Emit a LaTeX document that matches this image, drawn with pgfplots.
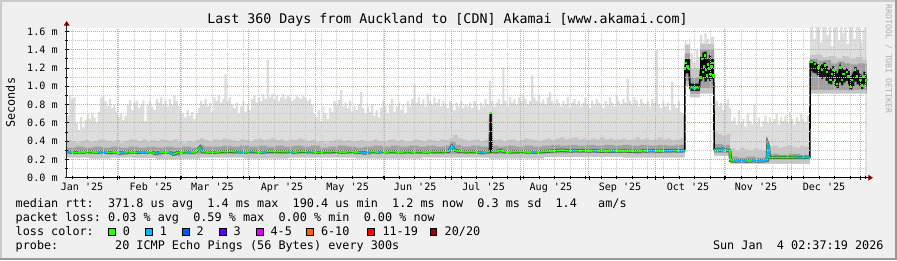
\documentclass[border=0pt]{standalone}
\usepackage{pgfplots}
\pgfplotsset{compat=1.18}
\usepackage{pgfplotstable}
\usepackage{fontspec}
\setmonofont{DejaVu Sans Mono}
\usetikzlibrary{arrows.meta}
\definecolor{bgc}{HTML}{F0F0F0}
\definecolor{shadea}{HTML}{CBCBCB}
\definecolor{shadeb}{HTML}{999999}
\definecolor{smA}{HTML}{DDDDDD}
\definecolor{smB}{HTML}{C6C6C6}
\definecolor{smC}{HTML}{A0A0A0}
\definecolor{smD}{HTML}{151515}
\definecolor{halo}{HTML}{5A5A5A}
\definecolor{mgrid}{HTML}{E89A9A}
\definecolor{mingrid}{HTML}{C8C8C8}
\definecolor{arrowred}{HTML}{7F0000}
\definecolor{l0}{HTML}{26FF00}
\definecolor{l1}{HTML}{00B8FF}
\definecolor{l2}{HTML}{0059FF}
\definecolor{l3}{HTML}{5E00FF}
\definecolor{l4}{HTML}{DD00FF}
\definecolor{l6}{HTML}{FF5E00}
\definecolor{l11}{HTML}{FF0000}
\definecolor{l20}{HTML}{A10000}
\definecolor{wm}{HTML}{B0B0B0}
\newcommand{\lgd}{\ttfamily\frenchspacing\fontsize{11.8}{14}\selectfont}
\newcommand{\ttl}{\ttfamily\frenchspacing\fontsize{13.3}{16}\selectfont}
\newcommand{\tck}{\ttfamily\frenchspacing\fontsize{10.1}{12}\selectfont}
\newcommand{\wmk}{\ttfamily\frenchspacing\fontsize{8.2}{10}\selectfont}

% median rtt (ms) vs days since start (Jan 9 2025)
\pgfplotstableread[row sep=\\]{
x m\\
0 0.285\\ 2 0.280\\ 4 0.276\\ 6 0.283\\ 8 0.280\\ 10 0.286\\ 12 0.282\\ 14 0.279\\ 16 0.284\\ 18 0.280\\
20 0.278\\ 22 0.283\\ 24 0.268\\ 26 0.281\\ 28 0.284\\ 30 0.279\\ 32 0.276\\ 34 0.283\\ 36 0.280\\ 38 0.285\\
40 0.262\\ 42 0.281\\ 44 0.279\\ 46 0.283\\ 48 0.256\\ 50 0.276\\ 52 0.282\\ 54 0.286\\ 56 0.280\\ 58 0.283\\
60 0.335\\ 61 0.286\\ 62 0.284\\ 64 0.280\\ 66 0.276\\ 68 0.282\\ 70 0.287\\ 72 0.284\\ 74 0.290\\ 76 0.283\\
78 0.286\\ 80 0.279\\ 82 0.285\\ 84 0.288\\ 86 0.282\\ 88 0.279\\ 90 0.286\\ 92 0.290\\ 94 0.284\\ 96 0.288\\
98 0.283\\ 100 0.286\\ 102 0.280\\ 104 0.284\\ 106 0.289\\ 108 0.283\\ 110 0.286\\ 112 0.280\\ 114 0.278\\ 116 0.285\\
118 0.283\\ 120 0.287\\ 122 0.284\\ 124 0.279\\ 126 0.283\\ 128 0.286\\ 130 0.281\\ 132 0.278\\ 134 0.270\\ 136 0.283\\
138 0.286\\ 140 0.280\\ 142 0.284\\ 144 0.281\\ 146 0.287\\ 148 0.283\\ 150 0.279\\ 152 0.284\\ 154 0.286\\ 156 0.281\\
158 0.285\\ 160 0.283\\ 162 0.280\\ 164 0.285\\ 166 0.283\\ 168 0.287\\ 170 0.284\\ 172 0.290\\ 173.3 0.345\\ 174.5 0.305\\
176 0.290\\ 178 0.286\\ 180 0.283\\ 182 0.287\\ 184 0.283\\ 186 0.276\\ 188 0.282\\ 190.5 0.285\\ 190.8 0.710\\ 191.1 0.288\\
193 0.283\\ 195 0.298\\ 197 0.284\\ 199 0.281\\ 201 0.285\\ 203 0.283\\ 205 0.286\\ 207 0.280\\ 209 0.283\\ 211 0.278\\
213 0.284\\ 215 0.287\\ 217 0.290\\ 219 0.293\\ 221 0.297\\ 223 0.302\\ 225 0.296\\ 227 0.292\\ 229 0.297\\ 231 0.293\\
233 0.296\\ 235 0.291\\ 237 0.295\\ 239 0.292\\ 241 0.288\\ 243 0.293\\ 245 0.287\\ 247 0.292\\ 249 0.290\\ 251 0.294\\
253 0.288\\ 255 0.291\\ 257 0.284\\ 259 0.295\\ 261 0.292\\ 263 0.297\\ 265 0.293\\ 267 0.290\\ 269 0.296\\ 271 0.294\\
273 0.297\\ 275 0.293\\ 277 0.296\\ 278.1 0.298\\
278.2 1.200\\ 278.6 1.260\\ 279.2 1.220\\ 280.0 1.190\\ 280.5 0.980\\ 281.5 0.990\\ 282.5 0.970\\ 283.5 0.990\\ 284.7 0.980\\
285.0 1.100\\ 285.7 1.300\\ 286.2 1.160\\ 286.6 1.220\\ 287.2 1.340\\ 287.6 1.180\\ 288.0 1.120\\ 288.5 1.240\\ 289.0 1.200\\
289.5 1.140\\ 290.0 1.220\\ 290.5 1.260\\ 291.0 1.120\\ 291.2 1.020\\
291.35 0.310\\ 292 0.305\\ 293 0.312\\ 294 0.300\\ 295 0.315\\ 296 0.305\\ 297 0.300\\ 298 0.296\\ 298.5 0.290\\
298.7 0.190\\ 300 0.185\\ 301 0.180\\ 302 0.186\\ 303 0.182\\ 304 0.188\\ 305 0.184\\ 306 0.180\\ 307 0.186\\ 308 0.183\\
309 0.188\\ 310 0.184\\ 311 0.181\\ 312 0.186\\ 313 0.183\\ 314 0.187\\ 315.2 0.190\\ 315.5 0.360\\ 315.9 0.330\\
316.2 0.222\\ 318 0.220\\ 320 0.224\\ 322 0.219\\ 324 0.223\\ 326 0.221\\ 328 0.224\\ 330 0.220\\ 332 0.223\\ 334.4 0.222\\
334.6 1.270\\ 335.2 1.270\\ 336.7 1.250\\ 338.2 1.210\\ 339.7 1.180\\ 341.2 1.230\\ 342.0 1.160\\ 343.5 1.070\\ 344.2 1.140\\
345.0 1.180\\ 345.7 1.070\\ 346.5 1.030\\ 348.0 1.210\\ 348.8 1.070\\ 349.5 1.140\\ 351.0 1.160\\ 351.7 1.110\\ 352.5 0.995\\
353.2 1.070\\ 354.7 1.180\\ 355.5 1.110\\ 357.0 1.070\\ 357.7 1.010\\ 358.5 1.110\\ 359.7 1.070\\
}\Mtab

\begin{document}
\begin{tikzpicture}
\fill[bgc] (0pt,0pt) rectangle (897pt,260pt);
\fill[shadea] (0pt,258pt) rectangle (897pt,260pt);
\fill[shadea] (0pt,0pt) rectangle (2pt,260pt);
\fill[shadeb] (0pt,0pt) rectangle (897pt,2pt);
\fill[shadeb] (895pt,0pt) rectangle (897pt,260pt);

\node[font=\ttl, anchor=base, inner sep=0pt] at (447.5pt,236pt) {Last~360~Days~from~Auckland~to~[CDN]~Akamai~[www.akamai.com]};
\node[font=\wmk, text=wm, rotate=-90, inner sep=0pt] at (888.5pt,201pt) {RRDTOOL~/~TOBI~OETIKER};

\begin{axis}[
  at={(66.7pt,82.3pt)}, anchor=south west,
  scale only axis, width=800pt, height=150pt,
  xmin=0, xmax=360, ymin=0, ymax=1.641,
  axis background/.style={fill=white},
  axis on top,
  axis x line=bottom, axis y line=left,
  x axis line style={line width=1pt, black, -{Triangle[length=4.5pt,width=5.5pt,color=arrowred]}, shorten >=-6.2pt},
  y axis line style={line width=1pt, black!85, -{Triangle[length=4.5pt,width=5.5pt,color=arrowred]}, shorten >=-6.7pt},
  xtick={23,51,82,112,143,173,204,235,265,296,326,357},
  xticklabels={,,,,,,,,,,,},
  minor xtick={2.5,9.5,...,359},
  extra x ticks={6.9,37.9,65.6,96.9,126.4,156.8,187.6,217.9,249.0,279.6,310.2,340.8},
  extra x tick labels={Jan '25,Feb '25,Mar '25,Apr '25,May '25,Jun '25,Jul '25,Aug '25,Sep '25,Oct '25,Nov '25,Dec '25},
  extra x tick style={grid=none, major tick length=0pt},
  xticklabel style={font=\tck, anchor=base, yshift=-12.8pt, inner sep=0pt},
  ytick={0,0.2,0.4,0.6,0.8,1.0,1.2,1.4,1.6},
  yticklabels={0.0 m,0.2 m,0.4 m,0.6 m,0.8 m,1.0 m,1.2 m,1.4 m,1.6 m},
  minor ytick={0.1,0.3,0.5,0.7,0.9,1.1,1.3,1.5},
  yticklabel style={font=\tck, anchor=east, inner sep=0pt, xshift=-6.9pt},
  xmajorgrids, xminorgrids, ymajorgrids, yminorgrids,
  major grid style={mgrid, line width=1pt, dash pattern=on 1pt off 1pt},
  minor grid style={mingrid, line width=1pt, dash pattern=on 1pt off 1pt},
  tick align=center, major tick length=4pt, minor tick length=2.5pt,
  tick style={black, line width=0.8pt},
  ylabel={Seconds},
  every axis y label/.style={at={(axis description cs:-0.07025,0.5)}, rotate=90, anchor=center, font=\lgd},
  unbounded coords=jump,
  clip=true,
]
% lightest smoke: top of the ping spread
\addplot[const plot, fill=smA, draw=none] coordinates {
(0,0.68)(1,0.90)(2,0.86)(3,0.88)(4,0.60)(5,0.52)(6,0.66)(7,0.55)(8,0.63)(9,0.70)
(10,0.64)(11,0.70)(12,0.66)(13,0.60)(14,0.72)(15,0.88)(16,0.90)(17,0.84)(18,0.78)(19,0.86)
(20,0.76)(21,0.80)(22,0.72)(23,0.66)(24,0.70)(25,0.63)(26,0.68)(27,0.80)(28,0.85)(29,0.74)
(30,0.82)(31,0.84)(32,0.76)(33,0.80)(34,0.85)(35,0.62)(36,0.80)(37,0.84)(38,0.78)(39,0.74)
(40,0.86)(41,0.82)(42,0.88)(43,0.80)(44,0.84)(45,0.78)(46,0.86)(47,0.80)(48,0.90)(49,0.84)
(50,0.78)(51,0.72)(52,0.70)(53,0.66)(54,0.74)(55,0.68)(56,0.72)(57,0.64)(58,0.70)(59,0.76)
(60,0.84)(61,0.80)(62,0.86)(63,0.78)(64,0.82)(65,0.72)(66,0.88)(67,0.84)(68,0.90)(69,0.82)
(70,0.86)(71,1.13)(72,0.84)(73,0.88)(74,0.80)(75,0.76)(76,0.82)(77,0.70)(78,0.78)(79,0.84)
(80,0.72)(81,0.80)(82,0.74)(83,0.86)(84,0.90)(85,0.82)(86,0.88)(87,0.84)(88,0.92)(89,0.86)
(90,1.29)(91,0.88)(92,0.92)(93,0.86)(94,0.90)(95,0.84)(96,0.88)(97,0.92)(98,0.86)(99,0.90)
(100,0.88)(101,0.84)(102,0.86)(103,0.90)(104,0.88)(105,0.86)(106,0.90)(107,0.88)(108,0.84)(109,0.86)
(110,0.80)(111,0.70)(112,0.66)(113,0.74)(114,0.62)(115,0.78)(116,0.70)(117,0.64)(118,0.76)(119,0.72)
(120,0.84)(121,0.80)(122,0.85)(123,0.96)(124,0.78)(125,0.82)(126,0.76)(127,0.84)(128,0.72)(129,0.78)
(130,0.74)(131,0.80)(132,0.94)(133,0.76)(134,0.70)(135,0.78)(136,0.72)(137,0.80)(138,0.68)(139,0.74)
(140,0.66)(141,0.76)(142,0.84)(143,0.78)(144,0.70)(145,0.80)(146,0.86)(147,0.72)(148,0.78)(149,0.82)
(150,0.74)(151,0.80)(152,0.70)(153,0.84)(154,0.78)(155,0.86)(156,1.03)(157,0.82)(158,0.88)(159,0.80)
(160,0.86)(161,0.78)(162,0.92)(163,0.84)(164,0.80)(165,0.88)(166,0.82)(167,0.86)(168,0.78)(169,0.84)
(170,0.80)(171,0.76)(172,0.84)(173,0.80)(174,0.74)(175,0.82)(176,0.78)(177,0.84)(178,0.76)(179,0.80)
(180,0.78)(181,0.82)(182,0.76)(183,0.84)(184,0.80)(185,0.74)(186,0.82)(187,0.78)(188,0.86)(189,0.80)
(190,1.06)(191,0.84)(192,0.78)(193,0.82)(194,0.86)(195,0.80)(196,1.21)(197,0.84)(198,0.78)(199,0.88)
(200,0.82)(201,0.86)(202,0.80)(203,0.88)(204,0.84)(205,0.92)(206,0.86)(207,0.80)(208,0.84)(209,1.12)
(210,0.88)(211,0.84)(212,0.90)(213,0.82)(214,0.86)(215,0.80)(216,0.88)(217,0.94)(218,0.84)(219,0.80)
(220,0.86)(221,0.82)(222,0.78)(223,0.84)(224,0.80)(225,0.88)(226,0.76)(227,0.82)(228,0.86)(229,0.80)
(230,0.84)(231,0.78)(232,0.82)(233,0.88)(234,0.80)(235,0.76)(236,0.84)(237,0.80)(238,0.86)(239,0.82)
(240,0.80)(241,0.76)(242,0.84)(243,0.80)(244,0.88)(245,0.82)(246,0.78)(247,0.90)(248,0.84)(249,0.80)
(250,0.86)(251,0.82)(252,1.08)(253,0.84)(254,0.80)(255,0.88)(256,0.84)(257,0.78)(258,0.86)(259,0.82)
(260,0.80)(261,0.84)(262,0.78)(263,0.86)(264,0.82)(265,1.40)(266,0.80)(267,0.76)(268,0.84)(269,0.78)
(270,0.82)(271,0.74)(272,1.05)(273,0.80)(274,0.76)(275,0.84)(276,0.72)(277,0.70)(278,0.74)
(278.2,1.50)(279,1.46)(280,1.52)(280.5,1.30)(281,1.36)(282,1.26)(283,1.40)(284,1.32)
(285,1.56)(286,1.48)(287,1.58)(288,1.52)(289,1.46)(290,1.54)
(291.3,0.88)(292,0.84)(293,0.78)(294,0.82)(295,0.74)(296,0.80)(297,0.86)(298,0.76)
(299,0.62)(300,0.66)(301,0.58)(302,0.74)(303,0.60)(304,0.64)(305,0.56)(306,0.70)(307,0.62)(308,0.58)(309,0.80)
(310,0.60)(311,0.66)(312,0.56)(313,0.62)(314,0.68)(315,0.60)(316,0.66)(317,0.60)(318,0.64)(319,0.70)
(320,0.58)(321,0.66)(322,0.62)(323,0.68)(324,0.60)(325,0.72)(326,0.64)(327,0.58)(328,0.66)(329,0.62)
(330,0.70)(331,0.64)(332,0.60)(333,0.68)(334,0.62)
(334.5,1.70)(336,1.52)(337,1.70)(339,1.48)(340,1.70)(342,1.56)(343,1.70)(344,1.44)(345,1.70)
(347,1.50)(348,1.70)(349,1.58)(350,1.70)(351,1.46)(352,1.70)(354,1.52)(355,1.70)(357,1.48)(358,1.62)(359,1.70)(360,1.70)
} \closedcycle;
% medium smoke
\addplot[const plot, fill=smB, draw=none] coordinates {
(0,0.41)(2,0.40)(4,0.38)(6,0.40)(8,0.41)(10,0.39)(12,0.40)(14,0.42)(16,0.41)(18,0.40)
(20,0.39)(22,0.41)(24,0.38)(26,0.40)(28,0.42)(30,0.41)(32,0.40)(34,0.42)(36,0.39)(38,0.41)
(40,0.40)(42,0.42)(44,0.41)(46,0.40)(48,0.42)(50,0.39)(52,0.38)(54,0.40)(56,0.39)(58,0.41)
(60,0.43)(62,0.41)(64,0.40)(66,0.42)(68,0.41)(70,0.43)(72,0.42)(74,0.41)(76,0.40)(78,0.42)
(80,0.41)(82,0.40)(84,0.42)(86,0.43)(88,0.41)(90,0.42)(92,0.43)(94,0.41)(96,0.42)(98,0.40)
(100,0.42)(102,0.41)(104,0.43)(106,0.42)(108,0.40)(110,0.41)(112,0.39)(114,0.40)(116,0.38)(118,0.40)
(120,0.41)(122,0.42)(124,0.40)(126,0.41)(128,0.39)(130,0.40)(132,0.41)(134,0.39)(136,0.40)(138,0.42)
(140,0.40)(142,0.39)(144,0.41)(146,0.42)(148,0.40)(150,0.41)(152,0.39)(154,0.40)(156,0.42)(158,0.41)
(160,0.40)(162,0.42)(164,0.41)(166,0.40)(168,0.42)(170,0.41)(172,0.43)(174,0.47)(176,0.43)(178,0.42)
(180,0.40)(182,0.41)(184,0.42)(186,0.40)(188,0.41)(190,0.43)(192,0.41)(194,0.42)(196,0.40)(198,0.41)
(200,0.42)(202,0.40)(204,0.41)(206,0.43)(208,0.42)(210,0.41)(212,0.40)(214,0.42)(216,0.43)(218,0.41)
(220,0.43)(222,0.44)(224,0.42)(226,0.43)(228,0.44)(230,0.42)(232,0.43)(234,0.41)(236,0.43)(238,0.42)
(240,0.44)(242,0.42)(244,0.43)(246,0.41)(248,0.42)(250,0.43)(252,0.41)(254,0.42)(256,0.44)(258,0.42)
(260,0.43)(262,0.41)(264,0.42)(266,0.44)(268,0.42)(270,0.43)(272,0.41)(274,0.42)(276,0.43)
(278.2,1.45)(280.5,1.20)(285,1.46)(291.3,0.50)(293,0.48)(295,0.46)(297,0.48)
(298.5,0.32)(301,0.30)(303,0.33)(305,0.31)(307,0.30)(309,0.32)(311,0.31)(313,0.30)(315.2,0.40)
(316.2,0.34)(318,0.35)(320,0.33)(322,0.34)(324,0.36)(326,0.34)(328,0.33)(330,0.35)(332,0.34)
(334.5,1.34)(337,1.35)(340,1.32)(343,1.33)(346,1.30)(349,1.33)(352,1.30)(355,1.32)(358,1.29)(360,1.29)
} \closedcycle;
% darker smoke near the median
\addplot[const plot, fill=smC, draw=none] coordinates {
(0,0.33)(4,0.34)(8,0.33)(12,0.34)(16,0.33)(20,0.34)(24,0.33)(28,0.34)(32,0.33)(36,0.34)
(40,0.33)(44,0.34)(48,0.33)(52,0.34)(56,0.33)(60,0.36)(62,0.34)(66,0.34)(70,0.35)(74,0.34)
(78,0.35)(82,0.34)(86,0.35)(90,0.34)(94,0.35)(98,0.34)(102,0.35)(106,0.34)(110,0.35)(114,0.33)
(118,0.34)(122,0.35)(126,0.34)(130,0.33)(134,0.34)(138,0.35)(142,0.34)(146,0.35)(150,0.34)(154,0.35)
(158,0.34)(162,0.35)(166,0.34)(170,0.35)(172.5,0.39)(175,0.36)(178,0.34)(182,0.35)(186,0.34)(190,0.35)
(194,0.34)(198,0.35)(202,0.34)(206,0.35)(210,0.34)(214,0.35)(218,0.36)(222,0.35)(226,0.36)(230,0.35)
(234,0.36)(238,0.35)(242,0.36)(246,0.35)(250,0.36)(254,0.35)(258,0.36)(262,0.35)(266,0.36)(270,0.35)(274,0.36)
(278.2,1.36)(280.5,1.10)(285,1.40)(291.3,0.37)(295,0.36)
(298.5,0.23)(302,0.22)(306,0.23)(310,0.22)(315.2,0.38)(316.2,0.26)(320,0.25)(325,0.26)(330,0.25)
(334.5,1.30)(338,1.28)(341,1.29)(344,1.25)(347,1.27)(350,1.25)(353,1.24)(356,1.25)(360,1.22)
} \closedcycle;
% darkest smoke (high-latency periods)
\addplot[const plot, fill=smD, draw=none] coordinates {
(0,0)(278.2,1.30)(280.5,1.03)(285,1.32)(286,1.37)(287,1.38)(288,1.30)(289,1.34)(290,1.30)(291.3,0)
(334.5,1.28)(335.5,1.27)(336.5,1.26)(337.5,1.24)(338.5,1.22)(339.5,1.24)(340.5,1.26)(341.5,1.22)(342.5,1.18)
(343.5,1.20)(344.5,1.22)(345.5,1.17)(346.5,1.14)(347.5,1.23)(348.5,1.20)(349.5,1.18)(350.5,1.20)(351.5,1.17)
(352.5,1.12)(353.5,1.15)(354.5,1.21)(355.5,1.18)(356.5,1.14)(357.5,1.12)(358.5,1.16)(359.5,1.13)(360,1.13)
} \closedcycle;
\addplot[const plot, fill=smC, draw=none] coordinates {
(0,0)(278.2,1.14)(280.5,0.95)(285,1.06)(286,1.10)(287,1.05)(288,1.08)(289,1.06)(290,1.08)(291.3,0)
(334.5,1.17)(335.5,1.15)(336.5,1.14)(337.5,1.12)(338.5,1.10)(339.5,1.08)(340.5,1.10)(341.5,1.06)(342.5,1.03)
(343.5,1.02)(344.5,1.06)(345.5,1.00)(346.5,0.98)(347.5,1.04)(348.5,1.01)(349.5,1.04)(350.5,1.06)(351.5,1.02)
(352.5,0.96)(353.5,1.00)(354.5,1.05)(355.5,1.02)(356.5,1.00)(357.5,0.97)(358.5,1.02)(359.5,1.00)(360,1.00)
} \closedcycle;
% lower smoke edge
\addplot[const plot, fill=smB, draw=none] coordinates {
(0,0.262)(6,0.258)(12,0.262)(18,0.256)(24,0.250)(28,0.260)(36,0.257)(40,0.245)(43,0.258)(48,0.240)
(51,0.255)(60,0.262)(70,0.260)(80,0.258)(90,0.262)(100,0.260)(110,0.258)(120,0.262)(130,0.256)(134,0.250)
(137,0.260)(150,0.258)(160,0.262)(170,0.260)(180,0.262)(186,0.252)(189,0.260)(200,0.258)(210,0.260)(216,0.265)
(225,0.270)(240,0.268)(255,0.265)(265,0.270)(278.2,1.06)(280.5,0.92)(285,0.98)(291.3,0.27)
(298.5,0.165)(315.2,0.170)(316.2,0.200)(334.5,0.96)(360,0.96)
} \closedcycle;
\addplot[const plot, fill=white, draw=none] coordinates {
(0,0.22)(10,0.21)(20,0.22)(30,0.215)(40,0.20)(50,0.205)(60,0.22)(80,0.21)(100,0.22)(130,0.21)
(160,0.22)(190,0.21)(215,0.225)(250,0.22)(278.2,1.00)(280.5,0.88)(285,0.92)(291.3,0.24)
(298.5,0.15)(334.5,0.92)(360,0.92)
} \closedcycle;
% median line
\addplot[halo, line width=3.2pt] table[restrict x to domain=0:278.15] {\Mtab};
\addplot[halo, line width=3.2pt] table[restrict x to domain=291.3:334.45] {\Mtab};
\addplot[black, line width=1.6pt] table {\Mtab};
\addplot[l0, line width=1.8pt] table[restrict x to domain=0:190.6] {\Mtab};
\addplot[l0, line width=1.8pt] table[restrict x to domain=191.0:278.15] {\Mtab};
\addplot[l0, line width=1.8pt] table[restrict x to domain=280.4:284.8] {\Mtab};
\addplot[l0, line width=1.8pt] table[restrict x to domain=291.3:334.45] {\Mtab};
\addplot[l1, line width=1.8pt] table[restrict x to domain=0:2] {\Mtab};
\addplot[l1, line width=1.8pt] table[restrict x to domain=14:18] {\Mtab};
\addplot[l1, line width=1.8pt] table[restrict x to domain=24:26] {\Mtab};
\addplot[l1, line width=1.8pt] table[restrict x to domain=32:36] {\Mtab};
\addplot[l1, line width=1.8pt] table[restrict x to domain=40:42] {\Mtab};
\addplot[l1, line width=1.8pt] table[restrict x to domain=46:48] {\Mtab};
\addplot[l1, line width=1.8pt] table[restrict x to domain=54:56] {\Mtab};
\addplot[l1, line width=1.8pt] table[restrict x to domain=59:61] {\Mtab};
\addplot[l1, line width=1.8pt] table[restrict x to domain=76:80] {\Mtab};
\addplot[l1, line width=1.8pt] table[restrict x to domain=82:84] {\Mtab};
\addplot[l1, line width=1.8pt] table[restrict x to domain=88:90] {\Mtab};
\addplot[l1, line width=1.8pt] table[restrict x to domain=100:102] {\Mtab};
\addplot[l1, line width=1.8pt] table[restrict x to domain=108:110] {\Mtab};
\addplot[l1, line width=1.8pt] table[restrict x to domain=132:136] {\Mtab};
\addplot[l1, line width=1.8pt] table[restrict x to domain=140:142] {\Mtab};
\addplot[l1, line width=1.8pt] table[restrict x to domain=172:174.5] {\Mtab};
\addplot[l1, line width=1.8pt] table[restrict x to domain=186:188] {\Mtab};
\addplot[l1, line width=1.8pt] table[restrict x to domain=209:211] {\Mtab};
\addplot[l1, line width=1.8pt] table[restrict x to domain=227:229] {\Mtab};
\addplot[l1, line width=1.8pt] table[restrict x to domain=237:239] {\Mtab};
\addplot[l1, line width=1.8pt] table[restrict x to domain=245:247] {\Mtab};
\addplot[l1, line width=1.8pt] table[restrict x to domain=261:265] {\Mtab};
\addplot[l1, line width=1.8pt] table[restrict x to domain=269:273] {\Mtab};
\addplot[l1, line width=1.8pt] table[restrict x to domain=275:278.15] {\Mtab};
\addplot[l1, line width=1.8pt] table[restrict x to domain=281.5:282.5] {\Mtab};
\addplot[l1, line width=1.8pt] table[restrict x to domain=292:297] {\Mtab};
\addplot[l1, line width=1.8pt] table[restrict x to domain=300:306] {\Mtab};
\addplot[l1, line width=1.8pt] table[restrict x to domain=308:316.2] {\Mtab};
\addplot[l1, line width=1.8pt] table[restrict x to domain=328:334.45] {\Mtab};
\addplot[only marks, mark=square*, mark size=0.7pt, l0] table[restrict x to domain=278.15:280.1] {\Mtab};
\addplot[only marks, mark=square*, mark size=0.7pt, l0] table[restrict x to domain=284.9:291.1] {\Mtab};
\addplot[only marks, mark=square*, mark size=0.7pt, l0] table[restrict x to domain=334.5:360] {\Mtab};
\addplot[only marks, mark=square*, mark size=0.7pt, l0] table[restrict x to domain=190.7:190.9] {\Mtab};
\end{axis}

% legend
\node[font=\lgd, anchor=base west, inner sep=0pt] at (15.5pt,52.5pt) {median~rtt:~~371.8~us~avg~~1.4~ms~max~~190.4~us~min~~1.2~ms~now~~0.3~ms~sd~~1.4~~~am/s};
\node[font=\lgd, anchor=base west, inner sep=0pt] at (15.5pt,38.5pt) {packet~loss:~0.03~\%~avg~~0.59~\%~max~~0.00~\%~min~~0.00~\%~now};
\node[font=\lgd, anchor=base west, inner sep=0pt] at (15.5pt,24.5pt) {loss~color:};
\node[font=\lgd, anchor=base west, inner sep=0pt] at (15.5pt,10.5pt) {probe:~~~~~~~~20~ICMP~Echo~Pings~(56~Bytes)~every~300s};
\node[font=\lgd, anchor=base west, inner sep=0pt] at (712.8pt,10.5pt) {Sun~Jan~~4~02:37:19~2026};
\foreach \bx/\col/\tx/\lab in {108.7/l0/122.6/0, 145.7/l1/159.7/1, 182.3/l2/196.4/2, 219.3/l3/233.4/3, 256.7/l4/270.4/4-5, 306.7/l6/320.8/6-10, 367.7/l11/382.3/11-19, 430.0/l20/444.5/20\slash 20}{
  \filldraw[fill=\col, draw=black, line width=0.8pt] (\bx pt,24.7pt) rectangle ++(6.6pt,6.6pt);
  \node[font=\lgd, anchor=base west, inner sep=0pt] at (\tx pt,24.5pt) {\lab};
}
\pgfresetboundingbox
\useasboundingbox (0pt,0pt) rectangle (897pt,260pt);
\end{tikzpicture}
\end{document}
